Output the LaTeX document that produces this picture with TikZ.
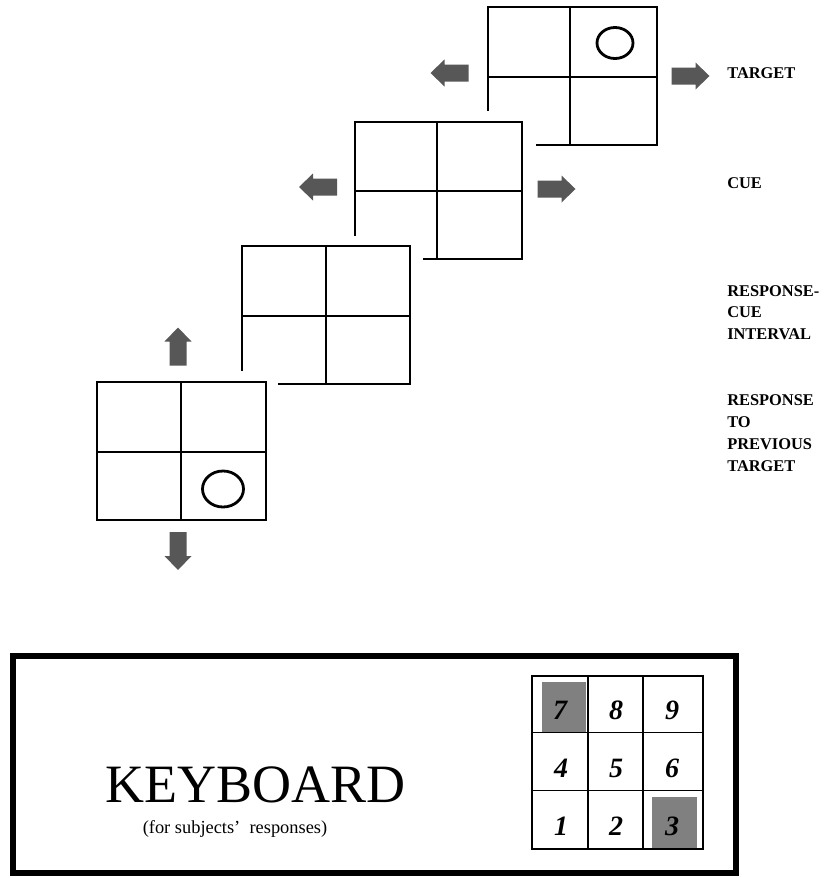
\documentclass[tikz,border=0pt]{standalone}
\usepackage{fontspec}
\setmainfont{Liberation Serif}
\newcommand\blockarr[3]{\fill[blockarrow,shift={(#1,#2)},rotate=#3] (-19,-8.5) -- (5,-8.5) -- (5,-13.5) -- (19,0) -- (5,13.5) -- (5,8.5) -- (-19,8.5) -- cycle;}
\begin{document}
\begin{tikzpicture}[x=0.75pt,y=-0.75pt,
  gridline/.style={line width=1.4pt, line cap=rect},
  ring/.style={line width=2.1pt},
  blockarrow/.style={fill=black!66},
  lab/.style={anchor=base west, inner sep=0pt, font=\fontsize{12.3}{14}\selectfont\bfseries},
  key/.style={anchor=base, inner sep=0pt, font=\fontsize{21}{24}\selectfont\bfseries\itshape}]
\useasboundingbox (0,0) rectangle (826,878);
\fill[white] (0,0) rectangle (826,878);

% TARGET grid
\draw[gridline] (488,110) -- (488,7) -- (657,7) -- (657,145) -- (537,145);
\draw[gridline] (488,77) -- (657,77);
\draw[gridline] (570,7) -- (570,145);
\draw[ring] (615,43) ellipse [x radius=18, y radius=15.5];
\blockarr{449.5}{73}{180}
\blockarr{690.5}{76}{0}

% CUE grid
\draw[gridline] (355,235) -- (355,122) -- (522,122) -- (522,259) -- (424,259);
\draw[gridline] (355,191) -- (522,191);
\draw[gridline] (437,122) -- (437,259);
\blockarr{318}{187}{180}
\blockarr{556.5}{189}{0}

% RESPONSE-CUE INTERVAL grid
\draw[gridline] (242,370) -- (242,246) -- (410,246) -- (410,384) -- (279,384);
\draw[gridline] (242,316) -- (410,316);
\draw[gridline] (326,246) -- (326,384);

% RESPONSE grid
\draw[gridline] (97,382) rectangle (266,520);
\draw[gridline] (97,452) -- (266,452);
\draw[gridline] (181,382) -- (181,520);
\draw[ring] (223,489) ellipse [x radius=20.5, y radius=18];
\blockarr{178}{346.5}{90}
\blockarr{178}{551}{-90}

% labels
\node[lab] (l1) at (727,78.5) {TARGET};
\node[lab] (l2) at (727,188.5) {CUE};
\node[lab] (l3a) at (727,296.5) {RESPONSE-};
\node[lab] (l3b) at (727,317.5) {CUE};
\node[lab] (l3c) at (727,339.5) {INTERVAL};
\node[lab] (l4a) at (727,405.5) {RESPONSE};
\node[lab] (l4b) at (727,427.5) {TO};
\node[lab] (l4c) at (727,449.5) {PREVIOUS};
\node[lab] (l4d) at (727,471.5) {TARGET};

% keyboard
\draw[line width=4.5pt] (13,656) rectangle (736,873);
\node[anchor=base, inner sep=0pt, font=\fontsize{40.5}{44}\selectfont] (kb) at (256,802) {KEYBOARD};
\node[anchor=base, inner sep=0pt, font=\fontsize{13.8}{16}\selectfont] (kbs) at (235,833) {(for subjects'~ responses)};

\fill[black!50] (542,682) rectangle (586,732);
\fill[black!50] (652,797) rectangle (697,848);
\draw[gridline] (532,676) rectangle (703,849);
\draw[gridline] (588,676) -- (588,849);
\draw[gridline] (643,676) -- (643,849);
\draw[gridline] (532,732.5) -- (703,732.5);
\draw[gridline] (532,790.5) -- (703,790.5);
\node[key] (k7) at (560,719) {7};
\node[key] (k8) at (616,719) {8};
\node[key] (k9) at (672,719) {9};
\node[key] (k4) at (561,777) {4};
\node[key] (k5) at (616,777) {5};
\node[key] (k6) at (672,777) {6};
\node[key] (k1) at (561,835) {1};
\node[key] (k2) at (616,835) {2};
\node[key] (k3) at (672,835) {3};
\end{tikzpicture}
\end{document}
